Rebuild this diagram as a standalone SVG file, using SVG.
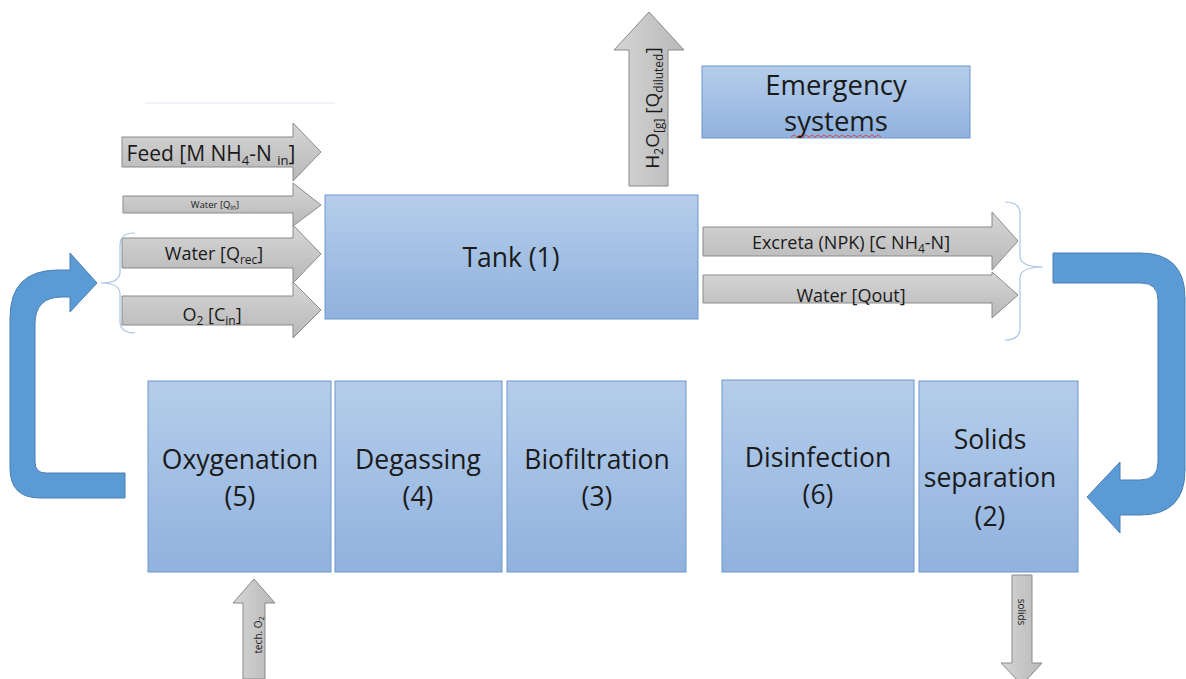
<svg xmlns="http://www.w3.org/2000/svg" width="1186" height="679" viewBox="0 0 1186 679">
<defs>
<linearGradient id="gBox" x1="0" y1="0" x2="0" y2="1">
<stop offset="0" stop-color="#b5cdea"/>
<stop offset="1" stop-color="#90b2de"/>
</linearGradient>
<linearGradient id="gGrayH" x1="0" y1="0" x2="0" y2="1">
<stop offset="0" stop-color="#d6d6d6"/>
<stop offset="1" stop-color="#b8b8b8"/>
</linearGradient>
<linearGradient id="gGrayV" x1="0" y1="0" x2="1" y2="0">
<stop offset="0" stop-color="#d6d6d6"/>
<stop offset="1" stop-color="#b8b8b8"/>
</linearGradient>
<style>
.box{fill:url(#gBox);stroke:#6f97cc;stroke-width:1}
.ga{fill:url(#gGrayH);stroke:#8a8a8a;stroke-width:1}
.gv{fill:url(#gGrayV);stroke:#8a8a8a;stroke-width:1}
.ba{fill:#5b9bd5;stroke:#4a7fb5;stroke-width:1}
.br{fill:none;stroke:#a9c6e6;stroke-width:1.2}
text{font-family:"Open Sans","Liberation Sans",sans-serif;fill:#1a1a1a}
.big{font-size:26.5px;text-anchor:middle}
.emg{font-size:27.5px;text-anchor:middle}
.mid{font-size:18px;text-anchor:middle}
.feed{font-size:21px;text-anchor:middle}
.h2o{font-size:19px;text-anchor:middle}
.sub{font-size:12px}
.sub2{font-size:13px}
</style>
</defs>
<rect width="1186" height="679" fill="#ffffff"/>
<line x1="145" y1="103" x2="335" y2="103" stroke="#f0f4fa" stroke-width="2"/>

<g id="connectors">
<path id="c-feed" class="ga" d="M122,137 L293,137 L293,123 L321,152 L293,181 L293,167 L122,167 Z"/>
<path id="c-qin" class="ga" d="M123,196 L293,196 L293,183 L321,205 L293,226 L293,213 L123,213 Z"/>
<path id="c-o2" class="ga" d="M122,296 L293,296 L293,282 L321,310 L293,338 L293,325 L122,325 Z"/>
<path id="c-qrec" class="ga" d="M122,238 L293,238 L293,225 L321,254 L293,283 L293,268 L122,268 Z"/>
<path id="c-h2o" class="gv" d="M629,186 L629,50 L614,50 L649,12 L684,50 L668,50 L668,186 Z"/>
<path id="c-excreta" class="ga" d="M703,227 L992,227 L992,212 L1018,241 L992,270 L992,256 L703,256 Z"/>
<path id="c-qout" class="ga" d="M703,275 L992,275 L992,272 L1018,295 L992,318 L992,303 L703,303 Z"/>
<path id="c-techo2" class="gv" d="M243,679 L243,603 L233,603 L254,579 L275,603 L265,603 L265,679 Z"/>
<path id="c-solids" class="gv" d="M1012,575 L1032,575 L1032,663 L1042,663 L1022,685 L1001,663 L1012,663 Z"/>
<path id="c-return" class="ba" d="M125,498 L40,498 Q10,498 10,468 L10,318 Q10,270 58,270 L70,270 L70,253 L97,283 L70,312 L70,297 L62,297 Q35,297 35,324 L35,462 Q35,473 46,473 L125,473 Z"/>
<path id="c-out" class="ba" d="M1053,253 L1140,253 Q1185,253 1185,298 L1185,470 Q1185,515 1140,515 L1120,515 L1120,533 L1087,497 L1120,462 L1120,480 L1140,480 Q1158,480 1158,462 L1158,300 Q1158,283 1141,283 L1053,283 Z"/>
<path id="c-brace-l" class="br" d="M135,233 Q120,233 120,245 L120,272 Q120,283 101,283 Q120,283 120,294 L120,321 Q120,333 135,333"/>
<path id="c-brace-r" class="br" d="M1005,202 Q1020,202 1020,214 L1020,256 Q1020,267 1043,267 Q1020,267 1020,278 L1020,328 Q1020,340 1005,340"/>
<text x="211" y="161" class="feed">Feed [M NH<tspan class="sub2" dy="4">4</tspan><tspan dy="-4">-N </tspan><tspan class="sub2" dy="4">in</tspan><tspan dy="-4">]</tspan></text>
<text x="215" y="208" font-size="9.5" text-anchor="middle">Water [Q<tspan font-size="6.5" dy="2">in</tspan><tspan dy="-2">]</tspan></text>
<text x="214" y="260" class="mid">Water [Q<tspan class="sub" dy="4">rec</tspan><tspan dy="-4">]</tspan></text>
<text x="212" y="321" class="mid">O<tspan class="sub" dy="4">2</tspan><tspan dy="-4"> [C</tspan><tspan class="sub" dy="4">in</tspan><tspan dy="-4">]</tspan></text>
<text x="851" y="249" class="mid">Excreta (NPK) [C NH<tspan class="sub" dy="4">4</tspan><tspan dy="-4">-N]</tspan></text>
<text x="851" y="302" class="mid">Water [Qout]</text>
<text transform="translate(659,108) rotate(-90)" class="h2o">H<tspan class="sub" dy="4">2</tspan><tspan dy="-4">O</tspan><tspan class="sub" dy="4">[g]</tspan><tspan dy="-4"> [Q</tspan><tspan class="sub" dy="4">diluted</tspan><tspan dy="-4">]</tspan></text>
<text transform="translate(262,635) rotate(-90)" font-size="10" text-anchor="middle">tech. O<tspan font-size="7" dy="2">2</tspan></text>
<text transform="translate(1018,612) rotate(90)" font-size="10" text-anchor="middle">solids</text>
</g>

<g id="tank">
<rect class="box" x="325" y="195" width="373" height="124"/>
<text x="511" y="267" class="big">Tank (1)</text>
</g>
<g id="emergency">
<rect class="box" x="702" y="66" width="268" height="72"/>
<text x="836" y="95" class="emg">Emergency</text>
<text x="836" y="131" class="emg">systems</text>
<path d="M791,137 l3,-2 l3,2 l3,-2 l3,2 l3,-2 l3,2 l3,-2 l3,2 l3,-2 l3,2 l3,-2 l3,2 l3,-2 l3,2 l3,-2 l3,2 l3,-2 l3,2 l3,-2 l3,2 l3,-2 l3,2 l3,-2 l3,2 l3,-2 l3,2 l3,-2 l3,2 l3,-2 l3,2" fill="none" stroke="#e03030" stroke-width="0.8"/>
</g>
<g id="oxygenation">
<rect class="box" x="148" y="381" width="183" height="191"/>
<text x="240" y="469" class="big">Oxygenation</text>
<text x="240" y="506" class="big">(5)</text>
</g>
<g id="degassing">
<rect class="box" x="335" y="381" width="167" height="191"/>
<text x="418" y="469" class="big">Degassing</text>
<text x="418" y="506" class="big">(4)</text>
</g>
<g id="biofiltration">
<rect class="box" x="507" y="381" width="179" height="191"/>
<text x="597" y="469" class="big">Biofiltration</text>
<text x="597" y="506" class="big">(3)</text>
</g>
<g id="disinfection">
<rect class="box" x="722" y="380" width="192" height="192"/>
<text x="818" y="467" class="big">Disinfection</text>
<text x="818" y="504" class="big">(6)</text>
</g>
<g id="solids">
<rect class="box" x="919" y="381" width="159" height="191"/>
<text x="990" y="449" class="big">Solids</text>
<text x="990" y="487" class="big">separation</text>
<text x="990" y="526" class="big">(2)</text>
</g>
</svg>
